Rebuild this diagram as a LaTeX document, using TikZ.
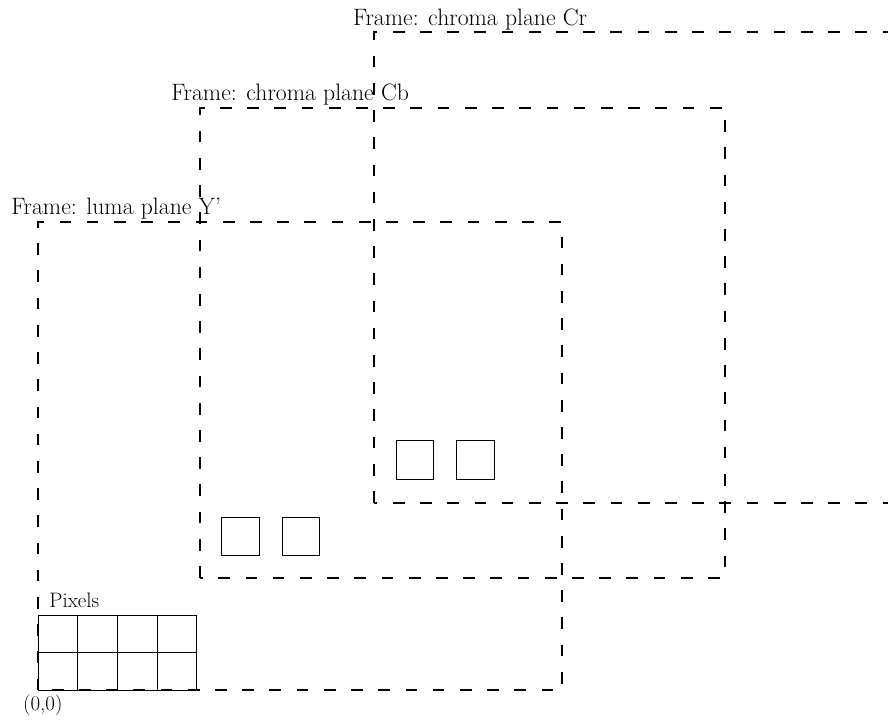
\documentclass[tikz,border=0pt]{standalone}
\tikzset{
  frame/.style={draw, line width=1.3pt, dash pattern=on 8.4pt off 11.1pt},
  framelabel/.style={anchor=base west, inner sep=0pt, font=\fontsize{17}{20}\selectfont},
  smalllabel/.style={anchor=base west, inner sep=0pt, font=\fontsize{15}{18}\selectfont},
  sample/.style={draw, line width=0.6pt}
}
\begin{document}
\begin{tikzpicture}[x=1cm, y=0.945cm]
	\useasboundingbox (-0.957,-0.773) rectangle (21.41,18.4);
	\clip (-0.957,-0.773) rectangle (21.41,18.4);

	% Luma plane
	\draw[frame] (0,0) rectangle (13.2,12.48);
	\node[framelabel] (lumalabel) at (-0.68,12.67) {Frame: luma plane Y\textquoteright};

	% Chroma plane Cb
	\draw[frame] (4.08,3) rectangle (17.3,15.52);
	\node[framelabel] (cblabel) at (3.35,15.71) {Frame: chroma plane Cb};

	% Chroma plane Cr
	\draw[frame] (8.46,5) rectangle (21.66,17.55);
	\node[framelabel] (crlabel) at (7.93,17.73) {Frame: chroma plane Cr};

	% Pixels of the luma plane
	\foreach \i in {0,...,3}
		\foreach \j in {0,1}
			\draw[sample] (\i,\j) rectangle (\i+1,\j+1);
	\node[smalllabel] (pixlabel) at (0.28,2.21) {Pixels};
	\node[smalllabel] (origin) at (-0.38,-0.53) {(0,0)};

	% Chroma samples
	\draw[sample] (4.61,3.6) rectangle (5.57,4.61);
	\draw[sample] (6.15,3.6) rectangle (7.1,4.61);
	\draw[sample] (9.02,5.63) rectangle (9.95,6.67);
	\draw[sample] (10.55,5.63) rectangle (11.49,6.67);
\end{tikzpicture}
\end{document}
